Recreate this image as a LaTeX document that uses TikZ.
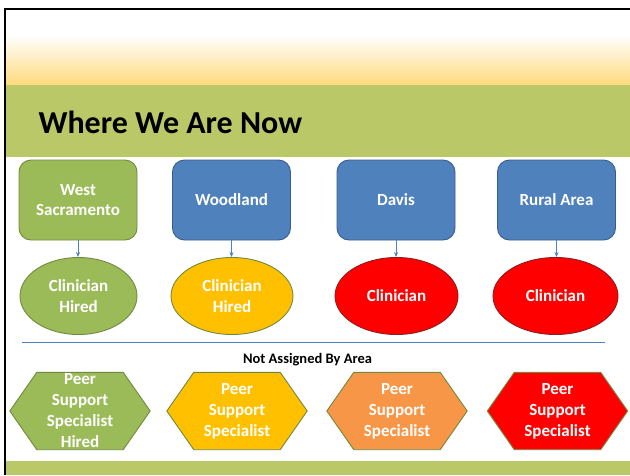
\documentclass[tikz,border=0pt]{standalone}
\usepackage{fontspec}
\setmainfont{Carlito}
\usetikzlibrary{shapes.geometric,arrows.meta,backgrounds}

\definecolor{band}{RGB}{186,200,104}
\definecolor{glow}{RGB}{255,218,125}
\definecolor{olive}{RGB}{155,187,89}
\definecolor{oliveline}{RGB}{113,137,63}
\definecolor{steel}{RGB}{79,129,189}
\definecolor{steelline}{RGB}{56,93,138}
\definecolor{amber}{RGB}{255,192,0}
\definecolor{tangerine}{RGB}{247,150,70}
\definecolor{redline}{RGB}{140,30,30}

\tikzset{
  areabox/.style={rectangle, rounded corners=12pt, minimum width=118pt,
    minimum height=80pt, line width=0.9pt, text=white, align=center,
    font=\fontsize{17}{20.5}\selectfont\bfseries},
  staffoval/.style={ellipse, minimum height=77pt, inner sep=0pt,
    line width=0.9pt, text=white, align=center,
    font=\fontsize{17}{20.5}\selectfont\bfseries},
  peerhex/.style={minimum width=140pt, minimum height=77pt, inner sep=0pt,
    text=white, align=center, font=\fontsize{17}{21}\selectfont\bfseries},
  hexline/.style={draw=oliveline, line width=0.9pt},
  link/.style={draw=steel, line width=0.6pt, -{Stealth[length=5pt,width=4pt]}}
}

\begin{document}
\begin{tikzpicture}[x=1pt,y=-1pt]
\useasboundingbox (0,0) rectangle (630,475);

% header: white fading to warm yellow, then the green title band
\begin{scope}[on background layer]
  \fill[white] (0,0) rectangle (630,475);
  \shade[top color=white, bottom color=glow] (5,35) rectangle (630,85);
  \fill[band] (5,85) rectangle (630,157);
  \fill[band] (5,461) rectangle (630,475);
\end{scope}
\draw[black, line width=2pt] (4.5,475) -- (4.5,9) -- (630,9);

\node[anchor=base west, font=\fontsize{32}{38}\selectfont\bfseries] (title)
  at (35,133) {Where We Are Now};

% areas
\node[areabox, fill=olive, draw=oliveline] (ws) at (78,200) {West\\Sacramento};
\node[areabox, fill=steel, draw=steelline] (wd) at (231.5,200) {Woodland};
\node[areabox, fill=steel, draw=steelline] (dv) at (396,200) {Davis};
\node[areabox, fill=steel, draw=steelline] (ra) at (556.5,200) {Rural Area};

% clinicians
\node[staffoval, minimum width=117pt, fill=olive, draw=oliveline] (c1) at (78.5,296) {Clinician\\Hired};
\node[staffoval, minimum width=122pt, fill=amber, draw=oliveline] (c2) at (232,296) {Clinician\\Hired};
\node[staffoval, minimum width=123pt, fill=red, draw=redline] (c3) at (396.5,296) {Clinician};
\node[staffoval, minimum width=125pt, fill=red, draw=redline] (c4) at (555.5,296) {Clinician};

\draw[link] (ws.south) -- (c1.north -| ws.south);
\draw[link] (wd.south) -- (c2.north -| wd.south);
\draw[link] (dv.south) -- (c3.north -| dv.south);
\draw[link] (ra.south) -- (c4.north -| ra.south);

% divider
\coordinate (divL) at (22,342);
\coordinate (divR) at (605,342);
\draw[steel, line width=0.7pt] (divL) -- (divR);
\node[anchor=base, font=\fontsize{14.5}{17}\selectfont\bfseries] (note)
  at (307.5,363) {Not Assigned By Area};

% peer support specialists
\node[peerhex] (p1) at (80,411) {Peer\\Support\\Specialist\\Hired};
\node[peerhex] (p2) at (237,411) {Peer\\Support\\Specialist};
\node[peerhex] (p3) at (397,411) {Peer\\Support\\Specialist};
\node[peerhex] (p4) at (557.5,411) {Peer\\Support\\Specialist};

\begin{scope}[on background layer]
  \foreach \h/\c in {p1/olive, p2/amber, p3/tangerine, p4/red} {
    \filldraw[hexline, fill=\c]
      (\h.west) -- ([xshift=27pt]\h.north west) -- ([xshift=-27pt]\h.north east)
      -- (\h.east) -- ([xshift=-27pt]\h.south east) -- ([xshift=27pt]\h.south west)
      -- cycle;
  }
\end{scope}
\end{tikzpicture}
\end{document}
